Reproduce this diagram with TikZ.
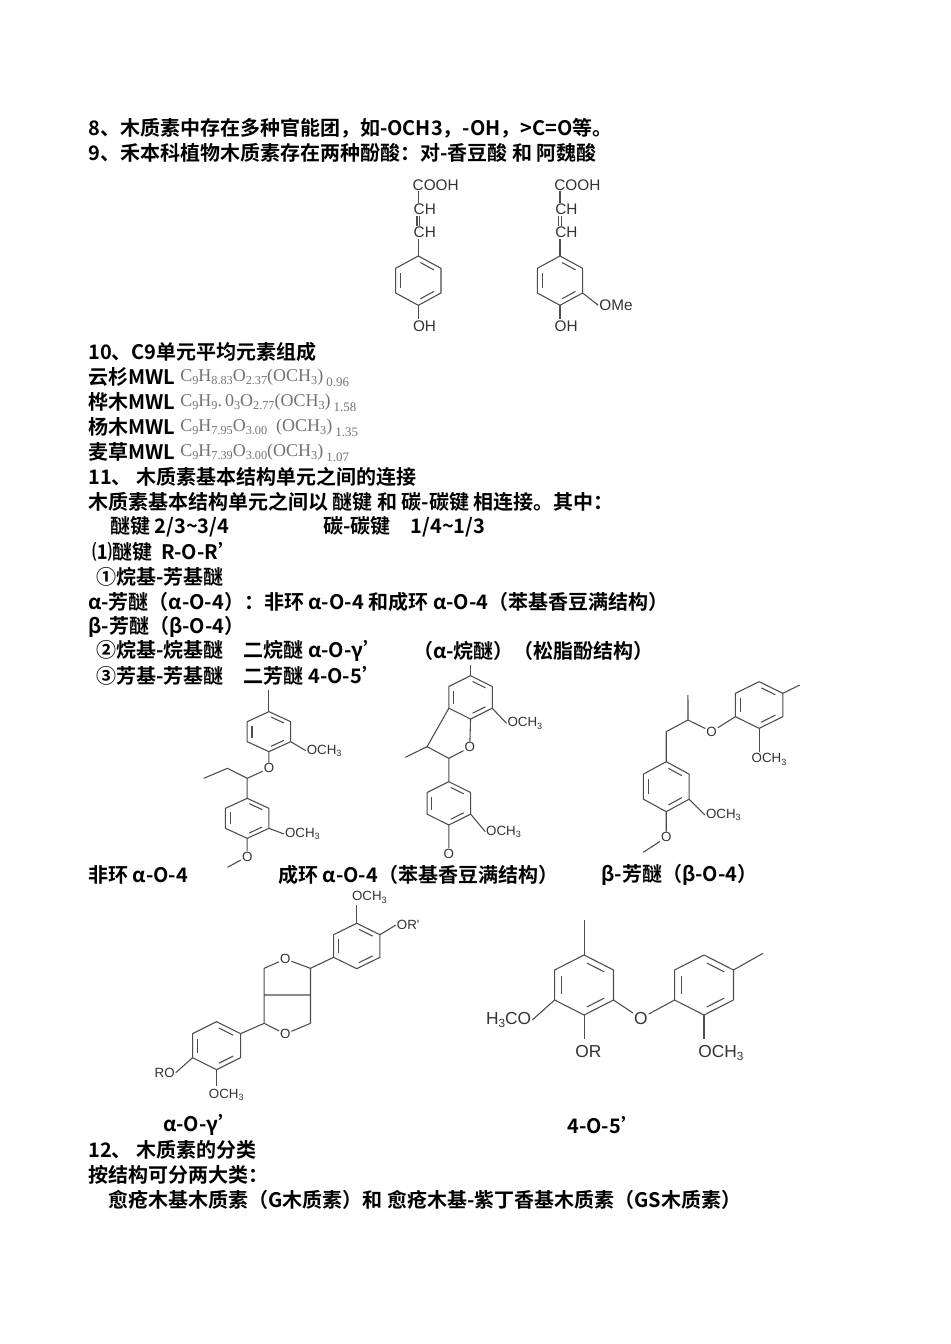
\documentclass[tikz,border=0pt]{standalone}
\usepackage{fontspec}
\usepackage{graphicx}
\usetikzlibrary{calc}
\newfontfamily\cjkb{Noto Sans CJK SC Bold}
\newfontfamily\labf{Liberation Sans}
\newfontfamily\frm{Liberation Serif}
\newcommand\sbs[1]{\raisebox{-0.35ex}{\scalebox{0.68}{#1}}}
\newcommand\sbl[1]{\,\raisebox{-0.6ex}{\scalebox{0.72}{#1}}}
\newcommand\ring[5]{%
 \coordinate (rc) at (#1,#2);
 \coordinate (r1) at (#1,#2-#4);
 \coordinate (r2) at (#1+#3,#2-#4/2);
 \coordinate (r3) at (#1+#3,#2+#4/2);
 \coordinate (r4) at (#1,#2+#4);
 \coordinate (r5) at (#1-#3,#2+#4/2);
 \coordinate (r6) at (#1-#3,#2-#4/2);
 \draw[bond] (r1)--(r2)--(r3)--(r4)--(r5)--(r6)--cycle;
 \foreach \s in {#5}{\pgfmathtruncatemacro\rj{mod(\s,6)+1}
   \coordinate (ia) at ($(rc)!0.78!(r\s)$);
   \coordinate (ib) at ($(rc)!0.78!(r\rj)$);
   \draw[bond] ($(ia)!0.12!(ib)$)--($(ib)!0.12!(ia)$);}}
\begin{document}
\begin{tikzpicture}[x=0.75pt,y=-0.75pt,
  txt/.style={anchor=west,inner sep=0,font=\cjkb\fontsize{15}{18}\selectfont},
  fml/.style={anchor=west,inner sep=0,text=black!55,font=\frm\fontsize{13.5}{16}\selectfont},
  bond/.style={draw=black!70,line width=0.8pt,line join=round},
  atom/.style={inner sep=0.6pt,font=\labf\fontsize{10}{12}\selectfont,text=black!80},
  atomc/.style={inner sep=0.6pt,font=\labf\fontsize{11.5}{13}\selectfont,text=black!80},
  atomb/.style={inner sep=0.6pt,font=\labf\fontsize{13}{15}\selectfont,text=black!80}]
\fill[white] (0,0) rectangle (950,1344);
\useasboundingbox (0,0) rectangle (950,1344);
% ---- text ----
\node[txt] (t8) at (88,128) {8、木质素中存在多种官能团，如-OCH3，-OH，>C=O等。};
\node[txt] (t9) at (88,153) {9、禾本科植物木质素存在两种酚酸：对-香豆酸 和 阿魏酸};
\node[txt] (t10) at (88,352) {10、C9单元平均元素组成};
\node[txt] (m1) at (88,377) {云杉MWL};
\node[txt] (m2) at (88,402) {桦木MWL};
\node[txt] (m3) at (88,427) {杨木MWL};
\node[txt] (m4) at (88,452) {麦草MWL};
\node[fml] (f1) at (180,378) {C\sbs{9}H\sbs{8.83}O\sbs{2.37}(OCH\sbs{3})\sbl{0.96}};
\node[fml] (f2) at (180,403) {C\sbs{9}H\sbs{9}.\,0\sbs{3}O\sbs{2.77}(OCH\sbs{3})\sbl{1.58}};
\node[fml] (f3) at (180,428) {C\sbs{9}H\sbs{7.95}O\sbs{3.00}\ \ (OCH\sbs{3})\sbl{1.35}};
\node[fml] (f4) at (180,453) {C\sbs{9}H\sbs{7.39}O\sbs{3.00}(OCH\sbs{3})\sbl{1.07}};
\node[txt] (t11) at (88,477) {11、 木质素基本结构单元之间的连接};
\node[txt] (t11a) at (88,502) {木质素基本结构单元之间以 醚键 和 碳-碳键 相连接。其中：};
\node[txt] (t11b) at (110,527) {醚键 2/3\textasciitilde3/4};
\node[txt] (t11c) at (323,527) {碳-碳键\quad 1/4\textasciitilde1/3};
\node[txt] (t11d) at (92,552) {⑴醚键\ \ R-O-R’};
\node[txt] (t11e) at (96,577) {①烷基-芳基醚};
\node[txt] (t11f) at (88,602) {α-芳醚（α-O-4）：非环 α-O-4 和成环 α-O-4（苯基香豆满结构）};
\node[txt] (t11g) at (88,627) {β-芳醚（β-O-4）};
\node[txt] (t11h) at (96,651) {②烷基-烷基醚\quad 二烷醚 α-O-γ’};
\node[txt] (t11i) at (413,651) {（α-烷醚）（松脂酚结构）};
\node[txt] (t11j) at (96,676) {③芳基-芳基醚\quad 二芳醚 4-O-5’};
\node[txt] (c1) at (88,875) {非环 α-O-4};
\node[txt] (c2) at (278,875) {成环 α-O-4（苯基香豆满结构）};
\node[txt] (c3) at (601,875) {β-芳醚（β-O-4）};
\node[txt] (c4) at (163,1125) {α-O-γ’};
\node[txt] (c5) at (567,1125) {4-O-5’};
\node[txt] (t12) at (88,1150) {12、 木质素的分类};
\node[txt] (t12a) at (88,1175) {按结构可分两大类：};
\node[txt] (t12b) at (108,1200) {愈疮木基木质素（G木质素）和 愈疮木基-紫丁香基木质素（GS木质素）};
% ---- coumaric & ferulic ----
\begin{scope}[shift={(380,170)},xscale=0.3333,yscale=0.3333]
 \foreach \dx/\nm in {0/a,425/b}{
  \begin{scope}[shift={(\dx,0)}]
  \node[atomc,anchor=west] (cooh\nm) at (95,45) {COOH};
  \node[atomc,anchor=west] (cha\nm) at (98,118) {CH};
  \node[atomc,anchor=west] (chb\nm) at (98,188) {CH};
  \draw[bond] (115,64)--(115,98);
  \draw[bond] (111,138)--(111,168) (119,138)--(119,168);
  \ring{115}{332}{68}{74}{5,1,3}
  \draw[bond] (115,208)--(115,258);
  \node[atomc,anchor=west] (oh\nm) at (96,470) {OH};
  \draw[bond] (115,406)--(115,448);
  \end{scope}}
 \node[atomc,anchor=west] (ome) at (655,406) {OMe};
 \draw[bond] (608,369)--(ome.west);
\end{scope}
% ---- structures row 1 ----
\begin{scope}[shift={(180,670)},xscale=0.3953,yscale=0.3333]
 \ring{225}{185}{55}{60}{5,1,3}
 \draw[bond] (225,125)--(225,60);
 \node[atom,anchor=west] (s1m1) at (318,242) {OCH\sbs{3}};
 \draw[bond] (280,215)--(s1m1.west);
 \node[atom] (s1o) at (225,295) {O};
 \draw[bond] (225,245)--(s1o);
 \coordinate (s1ca) at (170,325);
 \draw[bond] (s1o)--(s1ca)--(120,295)--(60,325);
 \draw[bond] (s1ca)--(170,385);
 \ring{170}{445}{55}{60}{5,1,3}
 \node[atom,anchor=west] (s1m2) at (263,492) {OCH\sbs{3}};
 \draw[bond] (225,475)--(s1m2.west);
 \node[atom] (s1o2) at (170,560) {O};
 \draw[bond] (170,505)--(s1o2);
 \draw[bond] (s1o2)--(120,592);
 \ring{735}{82}{55}{65}{5,1,3}
 \draw[bond] (735,17)--(735,-15);
 \node[atom,anchor=west] (s2m1) at (826,160) {OCH\sbs{3}};
 \draw[bond] (790,115)--(s2m1.west);
 \node[atom] (s2o) at (733,232) {O};
 \coordinate (s2c2) at (680,265);
 \coordinate (s2c3) at (625,230);
 \draw[bond] (735,147)--(s2o);
 \draw[bond] (s2o)--(s2c2)--(s2c3)--(680,115);
 \draw[bond] (s2c3)--(570,262);
 \draw[bond] (s2c2)--(680,335);
 \ring{680}{400}{55}{65}{5,1,3}
 \node[atom,anchor=west] (s2m2) at (772,485) {OCH\sbs{3}};
 \draw[bond] (735,432)--(s2m2.west);
 \node[atom] (s2o2) at (680,552) {O};
 \draw[bond] (680,465)--(s2o2);
 \ring{1465}{105}{60}{70}{5,1,3}
 \draw[bond] (1525,70)--(1568,45);
 \node[atom] (s3m1) at (1490,268) {OCH\sbs{3}};
 \draw[bond] (1465,175)--(1465,245);
 \node[atom] (s3o) at (1345,185) {O};
 \draw[bond] (1405,140)--(s3o);
 \coordinate (s3cb) at (1285,150);
 \draw[bond] (s3o)--(s3cb)--(1285,75);
 \draw[bond] (s3cb)--(1230,185)--(1230,275);
 \ring{1230}{350}{58}{75}{5,1,3}
 \node[atom,anchor=west] (s3m2) at (1328,435) {OCH\sbs{3}};
 \draw[bond] (1288,388)--(s3m2.west);
 \node[atom] (s3o2) at (1230,502) {O};
 \draw[bond] (1230,425)--(s3o2);
 \draw[bond] (s3o2)--(1172,547);
\end{scope}
% ---- structures row 2 ----
\begin{scope}[shift={(140,880)},xscale=0.4209,yscale=0.3333]
 \ring{515}{198}{55}{68}{5,1,3}
 \node[atom] (s4m1) at (545,52) {OCH\sbs{3}};
 \draw[bond] (515,130)--(515,75);
 \node[atom,anchor=west] (s4or) at (608,135) {OR'};
 \draw[bond] (570,164)--(s4or.west);
 \coordinate (s4ca) at (405,265);
 \node[atom] (s4o1) at (345,237) {O};
 \coordinate (s4ch1) at (295,265);
 \coordinate (s4f1) at (295,345);
 \coordinate (s4f2) at (405,345);
 \coordinate (s4cb) at (295,430);
 \node[atom] (s4o2) at (345,462) {O};
 \coordinate (s4ch2) at (405,430);
 \draw[bond] (460,232)--(s4ca)--(s4o1)--(s4ch1)--(s4f1)--(s4f2)--(s4ca);
 \draw[bond] (s4f1)--(s4cb)--(s4o2)--(s4ch2)--(s4f2);
 \ring{182}{497}{57}{72}{5,1,3}
 \draw[bond] (s4cb)--(239,461);
 \node[atom,anchor=east] (s4ro) at (85,578) {RO};
 \draw[bond] (125,533)--(s4ro.east);
 \node[atom] (s4m2) at (205,645) {OCH\sbs{3}};
 \draw[bond] (182,569)--(182,618);
 \ring{1055}{315}{70}{90}{5,1,3}
 \draw[bond] (1055,225)--(1055,120);
 \node[atomb,anchor=east] (s5m1) at (932,420) {H\sbs{3}CO};
 \draw[bond] (985,360)--(s5m1.east);
 \node[atomb] (s5or) at (1065,515) {OR};
 \draw[bond] (1055,405)--(1055,478);
 \node[atomb] (s5o) at (1190,415) {O};
 \draw[bond] (1125,360)--(s5o);
 \ring{1340}{315}{70}{90}{5,1,3}
 \draw[bond] (s5o)--(1270,360);
 \draw[bond] (1410,270)--(1480,220);
 \node[atomb] (s5m2) at (1380,520) {OCH\sbs{3}};
 \draw[bond] (1340,405)--(1340,478);
\end{scope}
\end{tikzpicture}
\end{document}
